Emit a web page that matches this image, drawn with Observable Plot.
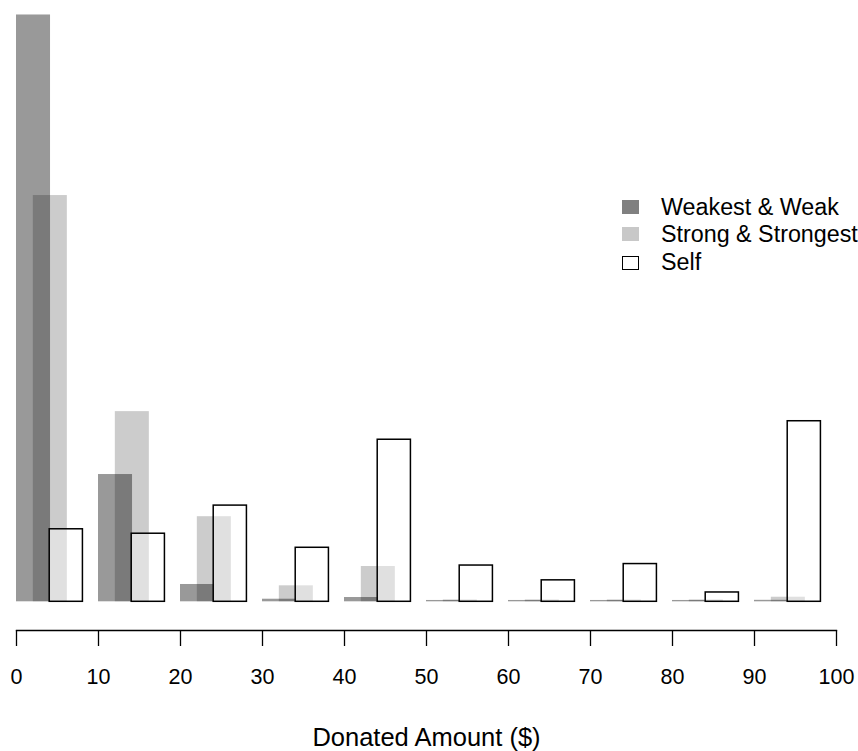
<!DOCTYPE html>
<html>
<head>
<meta charset="utf-8">
<script src="https://cdn.jsdelivr.net/npm/d3@7"></script>
<script src="https://cdn.jsdelivr.net/npm/@observablehq/plot@0.6"></script>
<style>
  html, body { margin: 0; padding: 0; background: #fff; }
  #wrap { position: relative; width: 858px; height: 751px; font-family: "Liberation Sans", Arial, Helvetica, sans-serif; }
  .leg-row { position: absolute; left: 622px; height: 23px; font-size: 23.3px; line-height: 23px; white-space: nowrap; color: #000; }
  .leg-sw { position: absolute; left: 0; width: 17px; height: 14px; box-sizing: border-box; }
  .leg-tx { position: absolute; left: 39px; top: 0; }
</style>
</head>
<body>
<div id="wrap"></div>
<script>
// Bins of donated amount (lower edge, $)
const bins = [0, 10, 20, 30, 40, 50, 60, 70, 80, 90];
// Proportions per group
const weakValues   = [0.793, 0.172, 0.0234, 0.0035, 0.0058, 0.0018, 0.0018, 0.0018, 0.0018, 0.002];
const strongValues = [0.549, 0.257, 0.115, 0.0216, 0.0477, 0.0025, 0.0025, 0.0025, 0.0025, 0.0062];
const selfValues   = [0.098, 0.092, 0.130, 0.073, 0.219, 0.049, 0.029, 0.051, 0.0126, 0.244];
const tickValues = [0, 10, 20, 30, 40, 50, 60, 70, 80, 90, 100];
const seriesNames = ["Weakest & Weak", "Strong & Strongest", "Self"];
const xLabel = "Donated Amount ($)";

const mk = (vals) => bins.map((b, i) => ({bin: b, value: vals[i]}));
const weak = mk(weakValues), strong = mk(strongValues), self = mk(selfValues);
const W = 4.15;

const chart = Plot.plot({
  width: 858,
  height: 751,
  marginLeft: 16,
  marginRight: 22,
  marginTop: 9,
  marginBottom: 121,
  style: {fontFamily: '"Liberation Sans", Arial, Helvetica, sans-serif', background: "#fff", color: "#000"},
  x: {domain: [0, 100], axis: null},
  y: {domain: [0, 0.8], range: [601.3, 9.3], axis: null},
  marks: [
    Plot.rect(weak, {x1: d => d.bin, x2: d => d.bin + W, y1: 0, y2: "value", fill: "black", fillOpacity: 0.4}),
    Plot.rect(strong, {x1: d => d.bin + 2.05, x2: d => d.bin + 2.05 + W, y1: 0, y2: "value", fill: "black", fillOpacity: 0.2}),
    Plot.rect(self, {x1: d => d.bin + 4.05, x2: d => d.bin + 4.05 + W - 0.1, y1: 0, y2: "value", fill: "white", fillOpacity: 0.4, stroke: "black", strokeWidth: 1.5}),
    Plot.frame({anchor: "bottom", stroke: "black", strokeWidth: 1.3}),
    Plot.axisX({ticks: tickValues, tickSize: 16, tickPadding: 22, fontSize: 21.5, tickFormat: d => String(d), label: null, strokeWidth: 1.3}),
    Plot.text([xLabel], {frameAnchor: "bottom", dy: 115, fontSize: 25.5, fill: "black"})
  ]
});

const wrap = document.getElementById("wrap");
wrap.appendChild(chart);

// Legend overlay
const legendStyles = [
  {bg: "#808080", border: "none"},
  {bg: "#c8c8c8", border: "none"},
  {bg: "#ffffff", border: "1.5px solid #000"}
];
const rowTops = [195.5, 223.3, 251];
const swTops = [200, 227.3, 255.8];
seriesNames.forEach((name, i) => {
  const row = document.createElement("div");
  row.className = "leg-row";
  row.style.top = rowTops[i] + "px";
  const sw = document.createElement("div");
  sw.className = "leg-sw";
  sw.style.top = (swTops[i] - rowTops[i]) + "px";
  sw.style.background = legendStyles[i].bg;
  sw.style.border = legendStyles[i].border;
  const tx = document.createElement("span");
  tx.className = "leg-tx";
  tx.textContent = name;
  row.appendChild(sw);
  row.appendChild(tx);
  wrap.appendChild(row);
});
</script>
</body>
</html>
